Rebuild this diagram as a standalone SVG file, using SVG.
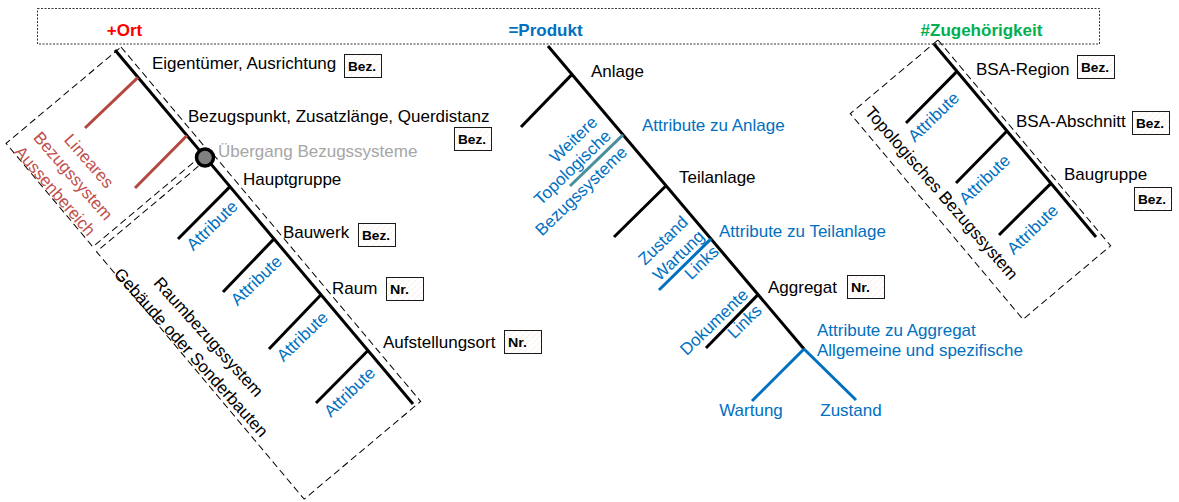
<svg xmlns="http://www.w3.org/2000/svg" width="1179" height="502" viewBox="0 0 1179 502">
  <defs>
    <pattern id="hatch" width="6" height="6" patternUnits="userSpaceOnUse">
      <rect width="6" height="6" fill="#ffffff"/>
      <path d="M0,6 L6,0" stroke="#f6cdb9" stroke-width="0.7" stroke-dasharray="1,1"/>
    </pattern>
    <style>
      text { font-family: "Liberation Sans", Arial, sans-serif; font-size: 17px; }
      .blk { fill: #000000; }
      .blu { fill: #0070c0; }
      .red { fill: #c0504d; }
      .gry { fill: #a6a6a6; }
      .head { font-weight: bold; }
      .tag { font-size: 12.5px; font-weight: bold; fill: #000000; }
      .tagbox { fill: url(#hatch); stroke: #1a1a1a; stroke-width: 1; }
      .mid { text-anchor: middle; }
      .spine { stroke: #000000; stroke-width: 3; fill: none; stroke-linecap: butt; }
      .rib { stroke: #000000; stroke-width: 3; fill: none; }
      .rib-red { stroke: #b4473f; stroke-width: 3; fill: none; }
      .rib-teal { stroke: #4b8f9c; stroke-width: 3; fill: none; }
      .rib-blue { stroke: #0070c0; stroke-width: 3; fill: none; }
      .frame { fill: none; stroke: #000000; stroke-width: 1; stroke-dasharray: 7,4; }
      .topframe { fill: none; stroke: #333333; stroke-width: 1; stroke-dasharray: 2,1.5; }
    </style>
  </defs>

  <rect width="1179" height="502" fill="#ffffff"/>

  <!-- header band with the three aspects -->
  <g id="header">
    <rect class="topframe" x="37.5" y="8.5" width="1062" height="35.5"/>
    <text class="head mid" x="124.5" y="36" fill="#ff0000">+Ort</text>
    <text class="head mid" x="545.5" y="36" fill="#0070c0">=Produkt</text>
    <text class="head mid" x="981.5" y="36" fill="#00b050">#Zugehörigkeit</text>
  </g>

  <!-- dashed grouping frames -->
  <g id="frames">
    <rect class="frame" x="0" y="0" width="135" height="150" transform="translate(121,47) rotate(50)"/>
    <rect class="frame" x="0" y="0" width="323" height="152" transform="translate(213,154) rotate(50)"/>
    <rect class="frame" x="0" y="0" width="268.6" height="114.5" transform="translate(938,40) rotate(50)"/>
  </g>

  <!-- connectors: spines and ribs -->
  <g id="connectors">
    <!-- Ort -->
    <line class="spine" x1="115" y1="50" x2="413" y2="404"/>
    <line class="rib-red" x1="138" y1="77.3" x2="85" y2="128"/>
    <line class="rib-red" x1="187" y1="135.5" x2="135" y2="188"/>
    <line class="rib" x1="230" y1="186.6" x2="178" y2="239"/>
    <line class="rib" x1="274" y1="238.9" x2="223" y2="292"/>
    <line class="rib" x1="321" y1="294.7" x2="269" y2="349"/>
    <line class="rib" x1="368" y1="350.5" x2="316" y2="403"/>
    <!-- Produkt -->
    <line class="spine" x1="548" y1="46" x2="804" y2="349"/>
    <line class="rib" x1="572" y1="74.4" x2="521" y2="127"/>
    <line class="rib-teal" x1="623" y1="134.8" x2="570" y2="186"/>
    <line class="rib" x1="666" y1="185.7" x2="614" y2="237"/>
    <line class="rib-blue" x1="711" y1="238.9" x2="659" y2="290"/>
    <line class="rib" x1="758" y1="294.6" x2="706" y2="348"/>
    <line class="rib-blue" x1="804" y1="349" x2="752" y2="401"/>
    <line class="rib-blue" x1="804" y1="349" x2="856" y2="400"/>
    <!-- Zugehoerigkeit -->
    <line class="spine" x1="934" y1="44" x2="1096" y2="237"/>
    <line class="rib" x1="957" y1="71.4" x2="906" y2="123"/>
    <line class="rib" x1="1007" y1="131" x2="956" y2="183"/>
    <line class="rib" x1="1051" y1="183.4" x2="999" y2="235"/>
  </g>

  <!-- Ort nodes -->
  <g id="node-eigentuemer">
    <text class="blk" x="152" y="69">Eigentümer, Ausrichtung</text>
    <rect class="tagbox" x="344.5" y="54.5" width="37" height="23"/>
    <text class="tag" x="348" y="71" textLength="28" lengthAdjust="spacingAndGlyphs">Bez.</text>
  </g>
  <g id="node-bezugspunkt">
    <text class="blk" x="188" y="122">Bezugspunkt, Zusatzlänge, Querdistanz</text>
    <rect class="tagbox" x="454.5" y="127.5" width="37" height="23"/>
    <text class="tag" x="458" y="144" textLength="28" lengthAdjust="spacingAndGlyphs">Bez.</text>
  </g>
  <g id="node-uebergang">
    <circle cx="205" cy="157.5" r="8.5" fill="#808080" stroke="#000000" stroke-width="3.5"/>
    <text class="gry" x="218" y="157">Übergang Bezugssysteme</text>
  </g>
  <g id="node-linear">
    <text class="red mid" transform="translate(88.5,161.5) rotate(49)" y="5">Lineares</text>
    <text class="red mid" transform="translate(72.5,176.5) rotate(49)" y="5">Bezugssystem</text>
    <text class="red mid" transform="translate(54.5,191.5) rotate(49)" y="5">Aussenbereich</text>
  </g>
  <g id="node-hauptgruppe">
    <text class="blk" x="243" y="185">Hauptgruppe</text>
    <text class="blu mid" transform="translate(212.5,226) rotate(-44)" y="5">Attribute</text>
  </g>
  <g id="node-bauwerk">
    <text class="blk" x="283" y="238">Bauwerk</text>
    <rect class="tagbox" x="358.5" y="223.5" width="37" height="23"/>
    <text class="tag" x="362" y="240" textLength="28" lengthAdjust="spacingAndGlyphs">Bez.</text>
    <text class="blu mid" transform="translate(256.7,281) rotate(-44)" y="5">Attribute</text>
  </g>
  <g id="node-raum">
    <text class="blk" x="332" y="294">Raum</text>
    <rect class="tagbox" x="386.5" y="277.5" width="37" height="23"/>
    <text class="tag" x="390" y="294" textLength="19" lengthAdjust="spacingAndGlyphs">Nr.</text>
    <text class="blu mid" transform="translate(302.7,337) rotate(-44)" y="5">Attribute</text>
  </g>
  <g id="node-aufstellungsort">
    <text class="blk" x="383" y="348">Aufstellungsort</text>
    <rect class="tagbox" x="504.5" y="330.5" width="37" height="23"/>
    <text class="tag" x="508" y="347" textLength="19" lengthAdjust="spacingAndGlyphs">Nr.</text>
    <text class="blu mid" transform="translate(350,392.5) rotate(-44)" y="5">Attribute</text>
  </g>
  <g id="node-raumbezug">
    <text class="blk mid" transform="translate(208,337.5) rotate(48)" y="5">Raumbezugssystem</text>
    <text class="blk mid" transform="translate(190.5,353) rotate(48)" y="5">Gebäude oder Sonderbauten</text>
  </g>

  <!-- Produkt nodes -->
  <g id="node-anlage">
    <text class="blk" x="591" y="77">Anlage</text>
    <text class="blu" x="642" y="131">Attribute zu Anlage</text>
    <text class="blu mid" transform="translate(574,140) rotate(-44)" y="5">Weitere</text>
    <text class="blu mid" transform="translate(573,168) rotate(-44)" y="5">Topologische</text>
    <text class="blu mid" transform="translate(581.7,191.5) rotate(-44)" y="5">Bezugssysteme</text>
  </g>
  <g id="node-teilanlage">
    <text class="blk" x="679" y="183">Teilanlage</text>
    <text class="blu" x="719" y="237">Attribute zu Teilanlage</text>
    <text class="blu mid" transform="translate(663.5,241) rotate(-44)" y="5">Zustand</text>
    <text class="blu mid" transform="translate(679,256) rotate(-44)" y="5">Wartung</text>
    <text class="blu mid" transform="translate(702,263) rotate(-44)" y="5">Links</text>
  </g>
  <g id="node-aggregat">
    <text class="blk" x="768" y="293">Aggregat</text>
    <rect class="tagbox" x="847.5" y="275.5" width="37" height="23"/>
    <text class="tag" x="851" y="292" textLength="19" lengthAdjust="spacingAndGlyphs">Nr.</text>
    <text class="blu mid" transform="translate(714.5,322.5) rotate(-44)" y="5">Dokumente</text>
    <text class="blu mid" transform="translate(745,322) rotate(-44)" y="5">Links</text>
    <text class="blu" x="817" y="336">Attribute zu Aggregat</text>
    <text class="blu" x="817" y="356">Allgemeine und spezifische</text>
  </g>
  <g id="node-wartung">
    <text class="blu mid" x="751" y="416">Wartung</text>
  </g>
  <g id="node-zustand">
    <text class="blu mid" x="851" y="416">Zustand</text>
  </g>

  <!-- Zugehoerigkeit nodes -->
  <g id="node-bsa-region">
    <text class="blk" x="976" y="75">BSA-Region</text>
    <rect class="tagbox" x="1077.5" y="55.5" width="37" height="23"/>
    <text class="tag" x="1081" y="72" textLength="28" lengthAdjust="spacingAndGlyphs">Bez.</text>
    <text class="blu mid" transform="translate(934,117.5) rotate(-44)" y="5">Attribute</text>
  </g>
  <g id="node-bsa-abschnitt">
    <text class="blk" x="1016" y="127">BSA-Abschnitt</text>
    <rect class="tagbox" x="1132.5" y="111.5" width="37" height="23"/>
    <text class="tag" x="1136" y="128" textLength="28" lengthAdjust="spacingAndGlyphs">Bez.</text>
    <text class="blu mid" transform="translate(985,180) rotate(-44)" y="5">Attribute</text>
  </g>
  <g id="node-baugruppe">
    <text class="blk" x="1064" y="180">Baugruppe</text>
    <rect class="tagbox" x="1134.5" y="187.5" width="37" height="23"/>
    <text class="tag" x="1138" y="204" textLength="28" lengthAdjust="spacingAndGlyphs">Bez.</text>
    <text class="blu mid" transform="translate(1033,230) rotate(-44)" y="5">Attribute</text>
  </g>
  <g id="node-topologisch">
    <text class="blk mid" transform="translate(941,193.5) rotate(49)" y="5">Topologisches Bezugssystem</text>
  </g>
</svg>
